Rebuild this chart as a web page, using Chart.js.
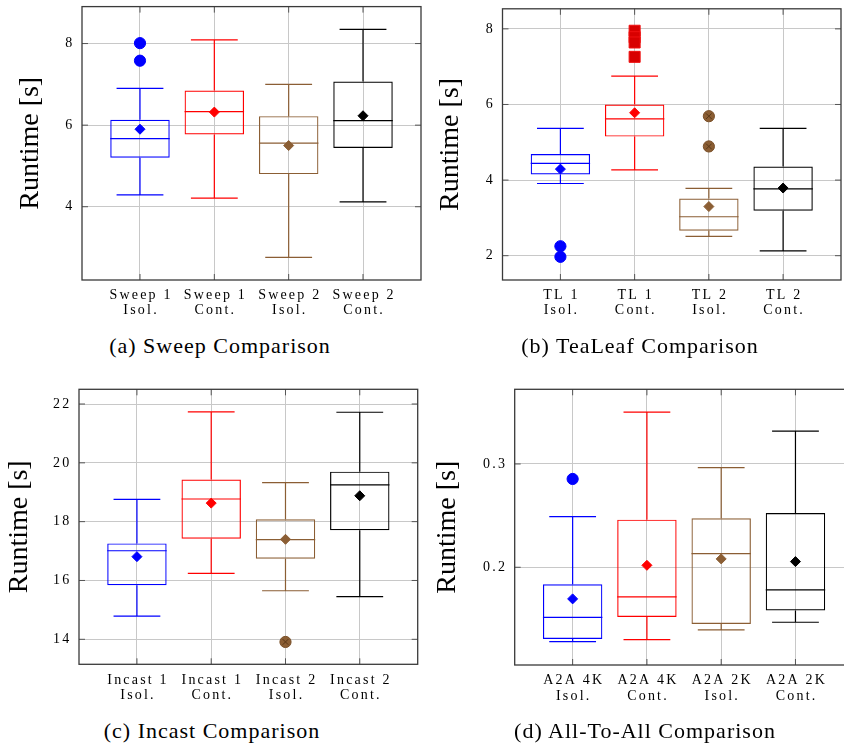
<!DOCTYPE html>
<html>
<head>
<meta charset="utf-8">
<script src="https://cdn.jsdelivr.net/npm/chart.js@4.4.1/dist/chart.umd.min.js"></script>
<style>
html, body { margin: 0; padding: 0; background: #fff; width: 844px; height: 746px; overflow: hidden; position: relative; }
canvas { position: absolute; }
.cap { position: absolute; font-family: "Liberation Serif", serif; font-size: 22px; line-height: 22px;
       letter-spacing: 1px; white-space: nowrap; transform: translateX(-50%); color: #000; }
</style>
</head>
<body>
<canvas id="sweep" width="430" height="330" style="left:0px;top:0px"></canvas>
<canvas id="tealeaf" width="430" height="330" style="left:420px;top:0px"></canvas>
<canvas id="incast" width="430" height="330" style="left:0px;top:380px"></canvas>
<canvas id="a2a" width="440" height="330" style="left:420px;top:380px"></canvas>
<div class="cap" style="left:220px;top:335px">(a) Sweep Comparison</div>
<div class="cap" style="left:640px;top:335px">(b) TeaLeaf Comparison</div>
<div class="cap" style="left:212px;top:720px">(c) Incast Comparison</div>
<div class="cap" style="left:645px;top:720px">(d) All-To-All Comparison</div>
<script>
// series colours: Isol./Cont. of each pair
const palette = ['#0000ff', '#ff0000', '#8b5e34', '#000000'];
const xRange = [0.22, 4.78];

// (a) Sweep
const sweepLabels = [['Sweep 1', 'Isol.'], ['Sweep 1', 'Cont.'], ['Sweep 2', 'Isol.'], ['Sweep 2', 'Cont.']];
const sweepLow  = [4.29, 4.21, 2.76, 4.12];
const sweepQ1   = [5.20, 5.77, 4.80, 5.44];
const sweepMed  = [5.67, 6.33, 5.56, 6.11];
const sweepQ3   = [6.13, 6.85, 6.22, 7.07];
const sweepHigh = [6.90, 8.09, 7.00, 8.35];
const sweepMean = [5.90, 6.32, 5.50, 6.23];
const sweepOut  = [[8.01, 7.58], [], [], []];
const sweepTicks = [4, 6, 8];
const sweepRange = [2.204, 8.906];

// (b) TeaLeaf
const tlLabels = [['TL 1', 'Isol.'], ['TL 1', 'Cont.'], ['TL 2', 'Isol.'], ['TL 2', 'Cont.']];
const tlLow  = [3.91, 4.27, 2.51, 2.13];
const tlQ1   = [4.15, 5.15, 2.66, 3.19];
const tlMed  = [4.44, 5.62, 3.03, 3.77];
const tlQ3   = [4.69, 6.00, 3.51, 4.36];
const tlHigh = [5.37, 6.75, 3.78, 5.37];
const tlMean = [4.29, 5.78, 3.30, 3.79];
const tlOut  = [[2.25, 1.97], [7.95, 7.78, 7.64, 7.26], [5.69, 4.89], []];
const tlTicks = [2, 4, 6, 8];
const tlRange = [1.357, 8.531];

// (c) Incast
const incLabels = [['Incast 1', 'Isol.'], ['Incast 1', 'Cont.'], ['Incast 2', 'Isol.'], ['Incast 2', 'Cont.']];
const incLow  = [14.79, 16.24, 15.65, 15.45];
const incQ1   = [15.84, 17.42, 16.74, 17.71];
const incMed  = [17.01, 18.77, 17.39, 19.25];
const incQ3   = [17.26, 19.43, 18.08, 19.70];
const incHigh = [18.76, 21.73, 19.33, 21.72];
const incMean = [16.81, 18.63, 17.40, 18.88];
const incOut  = [[], [], [13.91], []];
const incTicks = [14, 16, 18, 20, 22];
const incRange = [13.15, 22.5];

// (d) All-To-All
const a2aLabels = [['A2A 4K', 'Isol.'], ['A2A 4K', 'Cont.'], ['A2A 2K', 'Isol.'], ['A2A 2K', 'Cont.']];
const a2aLow  = [0.128, 0.130, 0.1394, 0.1468];
const a2aQ1   = [0.1306, 0.1519, 0.1452, 0.1581];
const a2aMed  = [0.1516, 0.1713, 0.2132, 0.1781];
const a2aQ3   = [0.1835, 0.2461, 0.2474, 0.2526];
const a2aHigh = [0.249, 0.3503, 0.2965, 0.3319];
const a2aMean = [0.1694, 0.2019, 0.2081, 0.2055];
const a2aOut  = [[0.2855], [], [], []];
const a2aTicks = [0.2, 0.3];
const a2aRange = [0.1054, 0.3723];

const serif = 'Liberation Serif';
const CAP_W = 0.63;   // whisker cap width in x units

// whiskers + medians, drawn from the scales
function boxPlugin(low, med, high, q1, q3) {
    return {
        id: 'whiskers',
        beforeDatasetsDraw(chart) {
            const { ctx, scales: { x, y } } = chart;
            const bars = chart.getDatasetMeta(0).data;
            ctx.save();
            ctx.lineWidth = 1.2;
            bars.forEach((bar, i) => {
                const cx = x.getPixelForValue(i + 1);
                const hw = (x.getPixelForValue(i + 1 + CAP_W / 2) - cx);
                ctx.strokeStyle = palette[i];
                ctx.beginPath();
                // upper whisker
                ctx.moveTo(cx, y.getPixelForValue(q3[i]));
                ctx.lineTo(cx, y.getPixelForValue(high[i]));
                ctx.moveTo(cx - hw, y.getPixelForValue(high[i]));
                ctx.lineTo(cx + hw, y.getPixelForValue(high[i]));
                // lower whisker
                ctx.moveTo(cx, y.getPixelForValue(q1[i]));
                ctx.lineTo(cx, y.getPixelForValue(low[i]));
                ctx.moveTo(cx - hw, y.getPixelForValue(low[i]));
                ctx.lineTo(cx + hw, y.getPixelForValue(low[i]));
                // median
                const my = y.getPixelForValue(med[i]);
                ctx.moveTo(bar.x - bar.width / 2, my);
                ctx.lineTo(bar.x + bar.width / 2, my);
                ctx.stroke();
            });
            ctx.restore();
        }
    };
}

// full frame with inward tick marks + spaced tick labels
const framePlugin = {
    id: 'frame',
    beforeDraw(chart) {
        Object.values(chart.scales).forEach(s => {
            if (s._spaced) return;
            const orig = s.drawLabels.bind(s);
            const horiz = s.isHorizontal();
            s.drawLabels = function (area) {
                const c = this.ctx;
                c.save();
                c.letterSpacing = '2.2px';
                if (horiz) c.translate(1.1, 0);
                orig(area);
                c.restore();
            };
            s._spaced = true;
        });
    },
    afterDraw(chart) {
        const { ctx, chartArea: { left, right, top, bottom }, scales: { x, y } } = chart;
        ctx.save();
        ctx.strokeStyle = '#555';
        ctx.lineWidth = 1;
        ctx.beginPath();
        y.ticks.forEach(t => {
            const py = y.getPixelForValue(t.value);
            ctx.moveTo(left, py); ctx.lineTo(left + 6, py);
            ctx.moveTo(right - 6, py); ctx.lineTo(right, py);
        });
        x.ticks.forEach(t => {
            const px = x.getPixelForValue(t.value);
            ctx.moveTo(px, bottom); ctx.lineTo(px, bottom - 6);
            ctx.moveTo(px, top); ctx.lineTo(px, top + 6);
        });
        ctx.stroke();
        ctx.strokeStyle = '#3a3a3a';
        ctx.lineWidth = 1.3;
        ctx.strokeRect(left, top, right - left, bottom - top);
        ctx.restore();
    }
};

function outlierSets(out) {
    const sets = [];
    out.forEach((vals, i) => {
        if (!vals.length) return;
        const pts = vals.map(v => ({ x: i + 1, y: v }));
        if (i === 1) {
            sets.push({ type: 'scatter', data: pts, pointStyle: 'rect', pointRadius: 7.8,
                        backgroundColor: '#d80000', borderColor: '#f01010', borderWidth: 1 });
        } else if (i === 2) {
            sets.push({ type: 'scatter', data: pts, pointStyle: 'crossRot', pointRadius: 4,
                        borderColor: '#5a3818', borderWidth: 1 });
            sets.push({ type: 'scatter', data: pts, pointStyle: 'circle', pointRadius: 5.6,
                        backgroundColor: '#8b5e34', borderColor: '#7a5029', borderWidth: 1 });
        } else {
            sets.push({ type: 'scatter', data: pts, pointStyle: 'circle', pointRadius: 5.6,
                        backgroundColor: palette[i], borderColor: palette[i], borderWidth: 1 });
        }
    });
    return sets;
}

function makePanel(id, geo, labels, low, q1, med, q3, high, mean, out, ticks, range) {
    const ctx = document.getElementById(id).getContext('2d');
    const w = ctx.canvas.width, h = ctx.canvas.height;
    return new Chart(ctx, {
        type: 'bar',
        data: {
            datasets: [
                {
                    type: 'bar',
                    order: 10,
                    data: q1.map((v, i) => ({ x: i + 1, y: [v, q3[i]] })),
                    backgroundColor: 'rgba(0,0,0,0)',
                    borderColor: palette,
                    borderWidth: 1.2,
                    borderSkipped: false,
                    barPercentage: 0.8,
                    categoryPercentage: 1.0
                },
                ...outlierSets(out),
                {
                    type: 'scatter',
                    order: 0,
                    data: mean.map((v, i) => ({ x: i + 1, y: v })),
                    pointStyle: 'rectRot',
                    pointRadius: 5,
                    backgroundColor: palette,
                    borderColor: palette,
                    borderWidth: 1
                }
            ]
        },
        options: {
            responsive: false,
            animation: false,
            layout: { padding: { left: 0, top: geo.T, right: w - geo.R, bottom: 0 } },
            scales: {
                x: {
                    type: 'linear',
                    min: xRange[0],
                    max: xRange[1],
                    offset: false,
                    afterBuildTicks: s => { s.ticks = labels.map((_, i) => ({ value: i + 1 })); },
                    afterFit: s => { s.height = h - geo.B; s.paddingLeft = 0; s.paddingRight = 0; },
                    grid: { color: '#c8c8c8', lineWidth: 1, drawTicks: false, offset: false },
                    border: { display: false },
                    ticks: {
                        autoSkip: false,
                        maxRotation: 0,
                        padding: geo.padX,
                        color: '#000',
                        font: { family: serif, size: 14, lineHeight: 1.12 },
                        callback: v => labels[Math.round(v) - 1]
                    }
                },
                y: {
                    type: 'linear',
                    min: range[0],
                    max: range[1],
                    beginAtZero: false,
                    afterBuildTicks: s => { s.ticks = ticks.map(v => ({ value: v })); },
                    afterFit: s => { s.width = geo.L; s.paddingTop = 0; s.paddingBottom = 0; },
                    grid: { color: '#c8c8c8', lineWidth: 1, drawTicks: false },
                    border: { display: false },
                    ticks: {
                        padding: 7.5,
                        color: '#000',
                        font: { family: serif, size: 14 }
                    },
                    title: {
                        display: true,
                        text: 'Runtime [s]',
                        color: '#000',
                        font: { family: serif, size: 28, lineHeight: 1.2 },
                        padding: { top: geo.titlePad, bottom: 0 }
                    }
                }
            },
            plugins: {
                legend: { display: false },
                tooltip: { enabled: false }
            }
        },
        plugins: [boxPlugin(low, med, high, q1, q3), framePlugin]
    });
}

makePanel('sweep',   { L: 82,   R: 421,   T: 4,   B: 280,   padX: 7.2, titlePad: 13.7 },
          sweepLabels, sweepLow, sweepQ1, sweepMed, sweepQ3, sweepHigh, sweepMean, sweepOut, sweepTicks, sweepRange);
makePanel('tealeaf', { L: 82.5, R: 421,   T: 4.3, B: 280,   padX: 7.2, titlePad: 13.7 },
          tlLabels, tlLow, tlQ1, tlMed, tlQ3, tlHigh, tlMean, tlOut, tlTicks, tlRange);
makePanel('incast',  { L: 79,   R: 417.7, T: 9.3, B: 284.3, padX: 7.9, titlePad: 2.7 },
          incLabels, incLow, incQ1, incMed, incQ3, incHigh, incMean, incOut, incTicks, incRange);
makePanel('a2a',     { L: 94.7, R: 433.7, T: 9.3, B: 285,   padX: 7.5, titlePad: 10.7 },
          a2aLabels, a2aLow, a2aQ1, a2aMed, a2aQ3, a2aHigh, a2aMean, a2aOut, a2aTicks, a2aRange);
</script>
</body>
</html>
